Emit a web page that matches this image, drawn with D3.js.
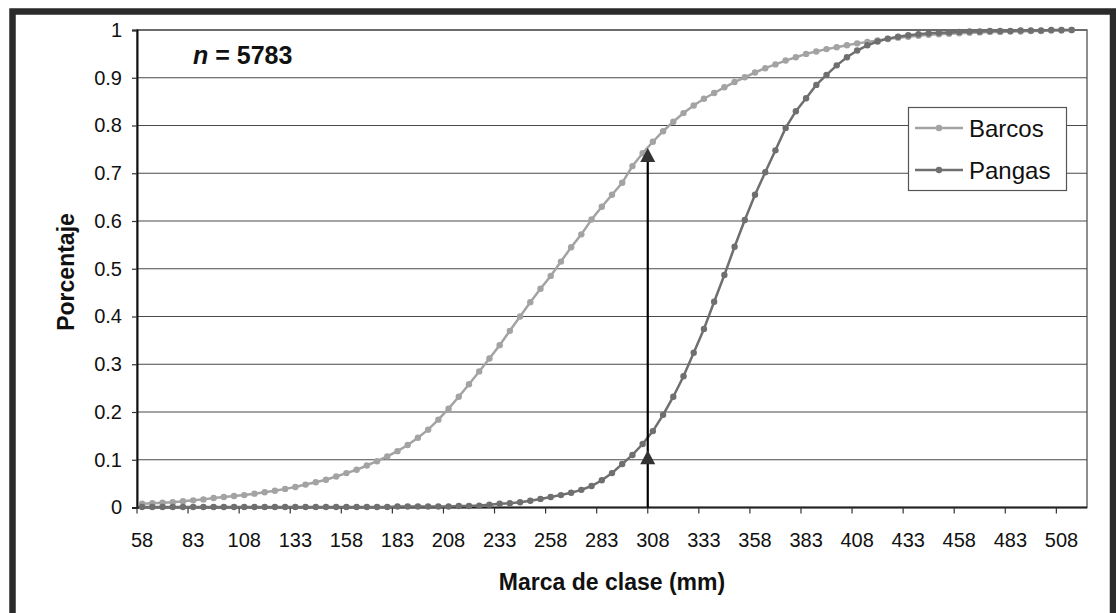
<!DOCTYPE html>
<html>
<head>
<meta charset="utf-8">
<script src="https://cdn.jsdelivr.net/npm/d3@7/dist/d3.min.js"></script>
<style>
  html, body { margin: 0; padding: 0; background: #fff; }
  svg { display: block; font-family: "Liberation Sans", Arial, sans-serif; }
</style>
</head>
<body>
<svg id="chart" width="1116" height="613"></svg>
<script>
const categories = [58,63,68,73,78,83,88,93,98,103,108,113,118,123,128,133,138,143,148,153,
  158,163,168,173,178,183,188,193,198,203,208,213,218,223,228,233,238,243,248,253,
  258,263,268,273,278,283,288,293,298,303,308,313,318,323,328,333,338,343,348,353,
  358,363,368,373,378,383,388,393,398,403,408,413,418,423,428,433,438,443,448,453,
  458,463,468,473,478,483,488,493,498,503,508,513,518];

const tickLabels = [58,83,108,133,158,183,208,233,258,283,308,333,358,383,408,433,458,483,508];
const yTicks = [0,0.1,0.2,0.3,0.4,0.5,0.6,0.7,0.8,0.9,1];

const barcos = [0.008,0.009,0.010,0.011,0.013,0.015,0.017,0.020,0.022,0.024,
  0.026,0.029,0.032,0.035,0.039,0.043,0.048,0.053,0.058,0.065,
  0.072,0.079,0.088,0.097,0.107,0.118,0.131,0.146,0.163,0.184,
  0.207,0.232,0.258,0.285,0.312,0.340,0.370,0.400,0.430,0.458,
  0.485,0.515,0.545,0.572,0.603,0.630,0.655,0.680,0.715,0.742,
  0.766,0.788,0.808,0.826,0.842,0.856,0.868,0.880,0.891,0.901,
  0.911,0.920,0.928,0.936,0.943,0.950,0.955,0.960,0.964,0.968,
  0.972,0.975,0.978,0.981,0.984,0.986,0.988,0.990,0.991,0.992,
  0.993,0.994,0.995,0.996,0.996,0.997,0.997,0.998,0.998,0.999,0.999,1.0];

const pangas = [0.001,0.001,0.001,0.001,0.001,0.001,0.001,0.001,0.001,0.001,
  0.001,0.001,0.001,0.001,0.001,0.001,0.001,0.001,0.001,0.001,
  0.001,0.001,0.001,0.001,0.001,0.002,0.002,0.002,0.002,0.002,
  0.002,0.003,0.003,0.004,0.006,0.008,0.009,0.011,0.014,0.018,
  0.022,0.026,0.031,0.037,0.045,0.057,0.072,0.091,0.110,0.133,
  0.160,0.194,0.232,0.275,0.324,0.374,0.431,0.487,0.546,0.602,
  0.655,0.702,0.748,0.795,0.830,0.857,0.885,0.906,0.926,0.943,
  0.957,0.968,0.976,0.982,0.986,0.989,0.991,0.993,0.994,0.995,
  0.996,0.997,0.997,0.998,0.998,0.998,0.999,0.999,0.999,1.0,1.0,1.0];

const seriesNames = ["Barcos", "Pangas"];
const seriesColors = ["#a3a3a3", "#6f6f6f"];
const arrowCategory = 308;
const arrowTips = [0.753, 0.12];

const svg = d3.select("#chart");
const plot = {left: 137, right: 1087, top: 30, bottom: 507.5};

// outer frame
svg.append("rect").attr("x", 12.5).attr("y", 11.5).attr("width", 1100.5).attr("height", 700)
  .attr("fill", "none").attr("stroke", "#2b2b2b").attr("stroke-width", 6.5);

const x = d3.scaleBand().domain(categories).range([plot.left, plot.right]).padding(0);
const y = d3.scaleLinear().domain([0, 1]).range([plot.bottom, plot.top]);
const cx = c => x(c) + x.bandwidth() / 2;

// plot area border
svg.append("rect").attr("x", plot.left).attr("y", plot.top)
  .attr("width", plot.right - plot.left).attr("height", plot.bottom - plot.top)
  .attr("fill", "none").attr("stroke", "#6a6a6a").attr("stroke-width", 1.5);

// gridlines
svg.append("g").selectAll("line").data(yTicks.filter(v => v > 0)).join("line")
  .attr("x1", plot.left).attr("x2", plot.right)
  .attr("y1", d => y(d)).attr("y2", d => y(d))
  .attr("stroke", "#4a4a4a").attr("stroke-width", 1.2);

// y axis
const yAxis = d3.axisLeft(y).tickValues(yTicks).tickSize(5).tickPadding(10)
  .tickFormat(d => d === 0 ? "0" : d === 1 ? "1" : d3.format(".1f")(d));
const gy = svg.append("g").attr("transform", `translate(${plot.left},0)`).call(yAxis);
gy.select(".domain").attr("stroke", "#111").attr("stroke-width", 2);
gy.selectAll(".tick line").attr("stroke", "#333").attr("stroke-width", 1.2);
gy.selectAll("text").attr("font-size", 20).attr("fill", "#111")
  .attr("font-family", "'Liberation Sans', Arial, sans-serif");

// x axis: ticks at category boundaries every 5 categories, labels at category centers
const xAxisG = svg.append("g");
xAxisG.append("line").attr("x1", plot.left).attr("x2", plot.right)
  .attr("y1", plot.bottom).attr("y2", plot.bottom).attr("stroke", "#222").attr("stroke-width", 1.8);
xAxisG.selectAll("line.tk").data(tickLabels).join("line").attr("class", "tk")
  .attr("x1", d => x(d)).attr("x2", d => x(d))
  .attr("y1", plot.bottom).attr("y2", plot.bottom + 6)
  .attr("stroke", "#333").attr("stroke-width", 1.2);
xAxisG.selectAll("text").data(tickLabels).join("text")
  .attr("x", d => cx(d)).attr("y", 547)
  .attr("text-anchor", "middle").attr("font-size", 20).attr("fill", "#111")
  .text(d => d);

// series
const seriesData = [barcos, pangas];
const line = d3.line().x(d => cx(d.c)).y(d => y(d.v));
seriesData.forEach((vals, si) => {
  const pts = vals.map((v, i) => ({c: categories[i], v}));
  const g = svg.append("g");
  g.append("path").datum(pts).attr("d", line).attr("fill", "none")
    .attr("stroke", seriesColors[si]).attr("stroke-width", 2.5);
  g.selectAll("circle").data(pts).join("circle")
    .attr("cx", d => cx(d.c)).attr("cy", d => y(d.v)).attr("r", 3.2)
    .attr("fill", seriesColors[si]);
});

// arrow
const ax = x(arrowCategory);
svg.append("line").attr("x1", ax).attr("x2", ax)
  .attr("y1", plot.bottom).attr("y2", y(arrowTips[0]) + 6)
  .attr("stroke", "#000").attr("stroke-width", 2.2);
arrowTips.forEach(t => {
  const ty = y(t);
  svg.append("path")
    .attr("d", `M${ax},${ty} L${ax - 7.5},${ty + 14} L${ax + 7.5},${ty + 14} Z`)
    .attr("fill", "#333");
});

// n annotation
const nt = svg.append("text").attr("x", 193).attr("y", 64)
  .attr("font-size", 25).attr("font-weight", "bold").attr("fill", "#111");
nt.append("tspan").attr("font-style", "italic").text("n");
nt.append("tspan").text(" = 5783");

// legend
const lg = svg.append("g");
lg.append("rect").attr("x", 908.5).attr("y", 107.5).attr("width", 158).attr("height", 83)
  .attr("fill", "#fff").attr("stroke", "#555").attr("stroke-width", 1.2);
seriesNames.forEach((name, i) => {
  const ly = 128 + i * 42;
  lg.append("line").attr("x1", 915).attr("x2", 963).attr("y1", ly).attr("y2", ly)
    .attr("stroke", seriesColors[i]).attr("stroke-width", 2.5);
  lg.append("circle").attr("cx", 939).attr("cy", ly).attr("r", 3.2).attr("fill", seriesColors[i]);
  lg.append("text").attr("x", 969).attr("y", ly + 8.5).attr("font-size", 24)
    .attr("fill", "#111").text(name);
});

// axis titles
svg.append("text").attr("x", 612).attr("y", 590).attr("text-anchor", "middle")
  .attr("font-size", 23).attr("font-weight", "bold").attr("fill", "#111")
  .text("Marca de clase (mm)");
svg.append("text").attr("transform", "translate(74,272) rotate(-90)")
  .attr("text-anchor", "middle").attr("font-size", 23).attr("font-weight", "bold")
  .attr("fill", "#111").text("Porcentaje");
</script>
</body>
</html>
